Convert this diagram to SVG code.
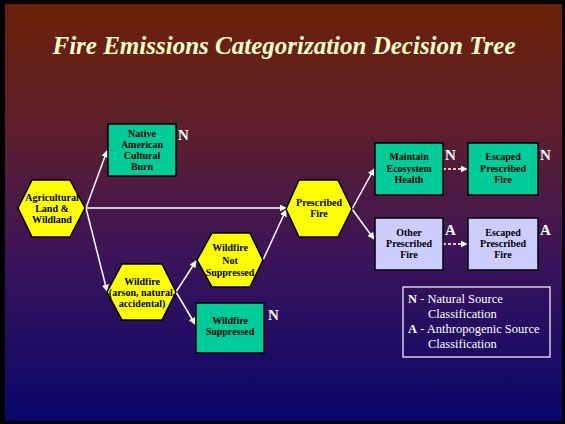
<svg xmlns="http://www.w3.org/2000/svg" width="565" height="424" viewBox="0 0 565 424">
<defs>
<linearGradient id="bg" x1="0" y1="0" x2="0" y2="1">
<stop offset="0" stop-color="#6B2108"/>
<stop offset="0.3" stop-color="#5E1F2C"/>
<stop offset="0.6" stop-color="#3C1459"/>
<stop offset="1" stop-color="#08066C"/>
</linearGradient>
<marker id="ah" viewBox="0 0 10 10" refX="9" refY="5" markerWidth="7" markerHeight="7" markerUnits="userSpaceOnUse" orient="auto">
<path d="M0,0 L10,5 L0,10 z" fill="#fff"/>
</marker>
</defs>
<style>
.title{font-family:"Liberation Serif","Times New Roman",serif;font-weight:bold;font-style:italic;font-size:25px;fill:#FFFFCC;text-anchor:middle}
.hex{fill:#FFFF00;stroke:#000;stroke-width:1.5}
.grn{fill:#00CC99;stroke:#000;stroke-width:1.5}
.lav{fill:#CCCCFF;stroke:#000;stroke-width:1.5}
.t{font-family:"Liberation Serif",serif;font-weight:bold;font-size:10px;fill:#000;text-anchor:middle}
.lbl{font-family:"Liberation Serif",serif;font-weight:bold;font-size:15px;fill:#fff}
.c{stroke:#fff;stroke-width:1.5;fill:none;marker-end:url(#ah)}
.d{stroke:#fff;stroke-width:1.5;fill:none;stroke-dasharray:3,2;marker-end:url(#ah)}
.leg{font-family:"Liberation Serif",serif;font-size:12.5px;fill:#fff}
</style>
<rect x="0" y="0" width="565" height="424" fill="#000"/>
<rect x="5" y="4" width="557" height="417" fill="url(#bg)"/>
<text class="title" x="284" y="54">Fire Emissions Categorization Decision Tree</text>

<g id="connectors">
<line class="c" x1="86" y1="208" x2="107" y2="151"/>
<line class="c" x1="86" y1="208" x2="286" y2="208"/>
<line class="c" x1="86" y1="208" x2="107" y2="291"/>
<line class="c" x1="176" y1="292" x2="196" y2="261"/>
<line class="c" x1="176" y1="292" x2="195" y2="324"/>
<line class="c" x1="263" y1="260" x2="286" y2="210"/>
<line class="c" x1="352" y1="209" x2="374" y2="169"/>
<line class="c" x1="352" y1="209" x2="374" y2="239"/>
<line class="d" x1="443" y1="169" x2="467" y2="169"/>
<line class="d" x1="443" y1="244" x2="467" y2="244"/>
</g>

<g id="agri">
<polygon class="hex" points="18,208 32,180 70,180 85,208 70,237 32,237"/>
<text class="t" x="52" y="201">Agricultural</text>
<text class="t" x="52" y="212">Land &amp;</text>
<text class="t" x="52" y="223">Wildland</text>
</g>

<g id="native">
<rect class="grn" x="108" y="124" width="68" height="52"/>
<text class="t" x="142" y="137">Native</text>
<text class="t" x="142" y="148">American</text>
<text class="t" x="142" y="159">Cultural</text>
<text class="t" x="142" y="170">Burn</text>
<text class="lbl" x="178" y="140">N</text>
</g>

<g id="wildfire">
<polygon class="hex" points="107,292 122,264 162,264 176,292 162,320 122,320"/>
<text class="t" x="142" y="285">Wildfire</text>
<text class="t" x="142" y="296">(arson, natural,</text>
<text class="t" x="142" y="307">accidental)</text>
</g>

<g id="notsup">
<polygon class="hex" points="197,260 212,233 250,233 263,260 250,287 212,287"/>
<text class="t" x="230" y="251">Wildfire</text>
<text class="t" x="230" y="264">Not</text>
<text class="t" x="230" y="276">Suppressed</text>
</g>

<g id="suppressed">
<rect class="grn" x="196" y="303" width="68" height="50"/>
<text class="t" x="230" y="324">Wildfire</text>
<text class="t" x="230" y="335">Suppressed</text>
<text class="lbl" x="268" y="320">N</text>
</g>

<g id="prescribed">
<polygon class="hex" points="286,209 299,180 338,180 352,209 338,237 299,237"/>
<text class="t" x="319" y="206">Prescribed</text>
<text class="t" x="319" y="217">Fire</text>
</g>

<g id="maintain">
<rect class="grn" x="375" y="143" width="68" height="52"/>
<text class="t" x="409" y="160">Maintain</text>
<text class="t" x="409" y="172">Ecosystem</text>
<text class="t" x="409" y="183">Health</text>
<text class="lbl" x="445" y="160">N</text>
</g>

<g id="escaped1">
<rect class="grn" x="468" y="143" width="70" height="52"/>
<text class="t" x="503" y="160">Escaped</text>
<text class="t" x="503" y="172">Prescribed</text>
<text class="t" x="503" y="183">Fire</text>
<text class="lbl" x="540" y="160">N</text>
</g>

<g id="other">
<rect class="lav" x="375" y="218" width="68" height="52"/>
<text class="t" x="409" y="236">Other</text>
<text class="t" x="409" y="247">Prescribed</text>
<text class="t" x="409" y="258">Fire</text>
<text class="lbl" x="445" y="235">A</text>
</g>

<g id="escaped2">
<rect class="lav" x="468" y="218" width="70" height="52"/>
<text class="t" x="503" y="236">Escaped</text>
<text class="t" x="503" y="247">Prescribed</text>
<text class="t" x="503" y="258">Fire</text>
<text class="lbl" x="540" y="235">A</text>
</g>

<g id="legend">
<rect x="403" y="287" width="147" height="70" fill="none" stroke="#fff" stroke-width="1.2"/>
<text class="leg" x="408" y="303"><tspan font-weight="bold">N</tspan> - Natural Source</text>
<text class="leg" x="428" y="318">Classification</text>
<text class="leg" x="408" y="333"><tspan font-weight="bold">A</tspan> - Anthropogenic Source</text>
<text class="leg" x="428" y="348">Classification</text>
</g>
</svg>
